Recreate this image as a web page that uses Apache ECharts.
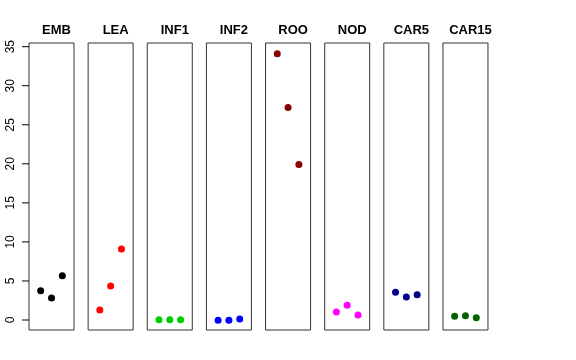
<!DOCTYPE html>
<html>
<head>
<meta charset="utf-8">
<script src="https://cdn.jsdelivr.net/npm/echarts@6/dist/echarts.min.js"></script>
<style>
html,body{margin:0;padding:0;background:#fff;}
#chart{width:576px;height:360px;}
</style>
</head>
<body>
<div id="chart"></div>
<script>
// Data
const panelNames = ['EMB', 'LEA', 'INF1', 'INF2', 'ROO', 'NOD', 'CAR5', 'CAR15'];
const positions = [1, 2, 3];
const EMB = [3.75, 2.82, 5.67];
const LEA = [1.28, 4.35, 9.09];
const INF1 = [0.03, 0.02, 0.03];
const INF2 = [-0.04, -0.02, 0.13];
const ROO = [34.1, 27.2, 19.9];
const NOD = [1.02, 1.88, 0.64];
const CAR5 = [3.54, 2.94, 3.24];
const CAR15 = [0.47, 0.55, 0.3];
const panelValues = [EMB, LEA, INF1, INF2, ROO, NOD, CAR5, CAR15];
const panelColors = ['#000000', '#FF0000', '#00CD00', '#0000FF', '#8B0000', '#FF00FF', '#00008B', '#006400'];
const yTicks = [0, 5, 10, 15, 20, 25, 30, 35];

const yMin = -1.28, yMax = 35.47;
const gridLeft0 = 29, gridStep = 59.14, gridW = 45, gridTop = 43, gridH = 287;

const grids = [], xAxes = [], yAxes = [], series = [], titles = [];
panelNames.forEach((name, i) => {
  const left = gridLeft0 + i * gridStep;
  grids.push({
    left: left, top: gridTop, width: gridW, height: gridH,
    show: true, borderColor: '#333', borderWidth: 1, backgroundColor: '#fff'
  });
  xAxes.push({
    type: 'value', gridIndex: i, min: -0.08, max: 4.08, show: false
  });
  yAxes.push({
    type: 'value', gridIndex: i, min: yMin, max: yMax, position: 'left',
    show: i === 0,
    axisLine: { show: false },
    splitLine: { show: false },
    axisTick: { show: false },
    axisLabel: {
      show: true, rotate: 90, margin: 12, fontSize: 12, color: '#000',
      fontFamily: 'Liberation Sans, Arial, sans-serif', customValues: yTicks
    }
  });
  series.push({
    type: 'scatter', xAxisIndex: i, yAxisIndex: i,
    symbol: 'circle', symbolSize: 7,
    itemStyle: { color: panelColors[i], opacity: 1 },
    data: positions.map((p, k) => [p, panelValues[i][k]]),
    animation: false
  });
  titles.push({
    text: name, left: left + gridW / 2, top: 19, textAlign: 'center',
    textStyle: { fontSize: 13, fontWeight: 'bold', color: '#000', fontFamily: 'Liberation Sans, Arial, sans-serif' }
  });
});
// narrow strip left of the first panel holding the y tick marks
grids.push({ left: gridLeft0 - 7, top: gridTop, width: 7, height: gridH, show: false });
xAxes.push({ type: 'value', gridIndex: 8, min: 0, max: 1, show: false });
yAxes.push({ type: 'value', gridIndex: 8, min: yMin, max: yMax, show: false });
series.push({
  type: 'scatter', xAxisIndex: 8, yAxisIndex: 8,
  symbol: 'rect', symbolSize: [7, 1],
  itemStyle: { color: '#000', opacity: 1 },
  data: yTicks.map(v => [0.5, v]),
  animation: false, silent: true
});

const chart = echarts.init(document.getElementById('chart'), null, { renderer: 'canvas' });
chart.setOption({
  animation: false,
  title: titles,
  grid: grids,
  xAxis: xAxes,
  yAxis: yAxes,
  series: series
});
</script>
</body>
</html>
